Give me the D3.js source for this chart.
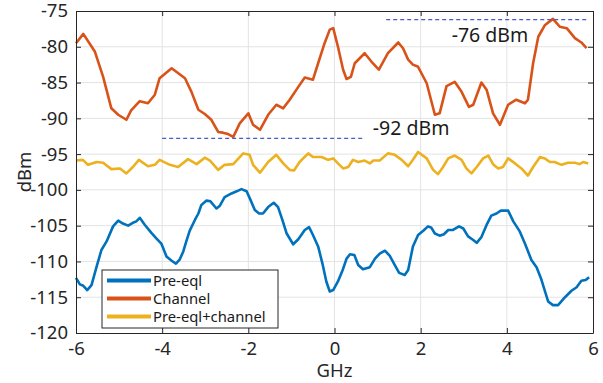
<!DOCTYPE html>
<html>
<head>
<meta charset="utf-8">
<script src="https://cdn.jsdelivr.net/npm/d3@7"></script>
<style>
  body { margin: 0; background: #fff; }
  svg { display: block; font-family: "Noto Sans", sans-serif; }
  .grid line { stroke: #e3e3e3; stroke-width: 1; }
  .axis path, .axis line { stroke: #262626; }
  .axis text { fill: #262626; font-size: 18.5px; font-family: "Noto Sans", sans-serif; }
</style>
</head>
<body>
<div id="chart"></div>
<script>
// Pre-eql
const preEqlF = [-6.0, -5.91, -5.83, -5.74, -5.64, -5.52, -5.41, -5.29, -5.14, -5.02, -4.91, -4.79, -4.68, -4.6, -4.52, -4.4, -4.25, -4.13, -4.02, -3.9, -3.78, -3.68, -3.59, -3.51, -3.44, -3.36, -3.24, -3.16, -3.09, -2.97, -2.88, -2.74, -2.66, -2.55, -2.39, -2.27, -2.16, -2.04, -1.95, -1.85, -1.75, -1.66, -1.54, -1.41, -1.31, -1.21, -1.11, -0.96, -0.84, -0.69, -0.59, -0.5, -0.38, -0.28, -0.19, -0.11, -0.03, 0.08, 0.19, 0.28, 0.36, 0.46, 0.55, 0.66, 0.82, 0.94, 1.05, 1.17, 1.28, 1.4, 1.5, 1.63, 1.71, 1.82, 1.94, 2.06, 2.17, 2.25, 2.33, 2.44, 2.54, 2.64, 2.75, 2.89, 2.99, 3.1, 3.22, 3.3, 3.41, 3.53, 3.64, 3.76, 3.86, 4.03, 4.15, 4.3, 4.42, 4.57, 4.69, 4.8, 4.96, 5.07, 5.19, 5.35, 5.5, 5.62, 5.73, 5.83, 5.91];
const preEqlDb = [-112.3, -113.2, -113.4, -114.0, -113.3, -110.7, -108.4, -107.2, -105.1, -104.3, -104.7, -105.0, -104.6, -104.4, -103.9, -104.9, -106.0, -106.8, -107.5, -109.3, -109.9, -110.3, -109.7, -108.6, -107.2, -105.7, -104.2, -103.3, -102.1, -101.5, -101.6, -102.6, -102.2, -101.0, -100.5, -100.2, -99.9, -100.2, -101.4, -102.8, -103.3, -103.3, -102.4, -101.8, -102.4, -104.2, -106.1, -107.6, -106.9, -105.6, -105.2, -106.3, -107.9, -110.3, -112.8, -114.2, -114.0, -112.8, -111.2, -109.6, -109.0, -109.1, -110.5, -111.1, -110.8, -109.6, -108.9, -108.5, -109.2, -110.5, -111.6, -111.9, -111.2, -107.9, -106.3, -105.7, -105.1, -105.3, -106.1, -106.4, -106.2, -105.6, -105.6, -105.1, -105.4, -106.5, -107.0, -107.4, -106.6, -104.9, -103.6, -103.3, -102.9, -102.9, -104.4, -105.8, -107.5, -109.8, -110.8, -112.5, -115.6, -116.1, -116.1, -115.0, -114.1, -113.6, -112.7, -112.6, -112.2];

// Channel
const channelF = [-6.0, -5.83, -5.56, -5.37, -5.18, -5.02, -4.83, -4.72, -4.52, -4.33, -4.17, -4.06, -3.78, -3.47, -3.32, -3.16, -3.01, -2.86, -2.7, -2.59, -2.47, -2.35, -2.2, -2.0, -1.89, -1.73, -1.54, -1.35, -1.19, -1.04, -0.84, -0.69, -0.5, -0.38, -0.23, -0.11, -0.03, 0.08, 0.2, 0.28, 0.38, 0.47, 0.7, 0.86, 1.03, 1.24, 1.48, 1.59, 1.71, 1.82, 1.94, 2.14, 2.33, 2.44, 2.6, 2.79, 2.95, 3.12, 3.22, 3.41, 3.53, 3.68, 3.84, 4.03, 4.22, 4.42, 4.49, 4.61, 4.73, 4.88, 5.07, 5.23, 5.39, 5.58, 5.73, 5.85];
const channelDb = [-79.5, -78.2, -80.7, -84.2, -88.6, -89.5, -90.2, -88.9, -87.6, -87.9, -86.7, -84.4, -83.0, -84.4, -86.3, -88.8, -89.4, -90.2, -91.9, -92.0, -92.2, -92.6, -90.7, -89.3, -90.9, -91.6, -89.5, -88.1, -88.6, -87.4, -85.6, -84.3, -84.6, -82.3, -79.5, -77.6, -77.4, -80.0, -83.2, -84.5, -84.2, -82.3, -80.9, -82.1, -83.2, -80.9, -79.4, -80.2, -81.8, -82.5, -82.8, -85.1, -89.5, -89.3, -85.5, -84.9, -86.3, -88.4, -88.1, -85.0, -86.0, -89.3, -90.9, -88.1, -87.4, -87.9, -87.4, -82.3, -78.6, -77.0, -76.1, -77.2, -77.4, -78.8, -79.4, -80.2];

// Pre-eql+channel
const comboF = [-6.0, -5.84, -5.72, -5.52, -5.37, -5.18, -4.98, -4.83, -4.68, -4.54, -4.33, -4.17, -4.06, -3.82, -3.63, -3.4, -3.2, -3.01, -2.89, -2.7, -2.55, -2.35, -2.12, -1.97, -1.89, -1.73, -1.54, -1.35, -1.19, -1.04, -0.94, -0.81, -0.61, -0.5, -0.3, -0.15, -0.03, 0.08, 0.2, 0.32, 0.43, 0.55, 0.7, 0.82, 0.9, 1.05, 1.24, 1.4, 1.56, 1.71, 1.82, 1.94, 2.14, 2.29, 2.4, 2.52, 2.64, 2.79, 2.95, 3.06, 3.18, 3.3, 3.45, 3.57, 3.68, 3.8, 3.91, 4.03, 4.19, 4.34, 4.49, 4.61, 4.77, 4.88, 5.0, 5.11, 5.27, 5.42, 5.58, 5.69, 5.77, 5.89];
const comboDb = [-95.9, -95.8, -96.5, -96.1, -96.2, -97.1, -97.0, -97.7, -96.8, -95.8, -96.7, -96.5, -95.8, -96.5, -96.8, -95.7, -96.4, -95.5, -95.9, -97.2, -96.5, -96.4, -94.9, -95.1, -96.5, -97.6, -96.1, -95.1, -96.3, -97.2, -97.3, -96.1, -94.9, -95.4, -95.4, -95.8, -95.6, -96.3, -97.0, -96.8, -95.8, -96.1, -95.9, -96.3, -95.9, -95.9, -94.9, -95.1, -95.8, -96.7, -95.8, -94.7, -95.6, -97.2, -97.8, -96.8, -95.6, -95.2, -95.8, -97.0, -97.7, -96.8, -95.6, -95.2, -96.4, -97.0, -96.8, -95.6, -96.3, -97.0, -98.0, -96.8, -95.4, -95.6, -96.1, -96.1, -96.5, -96.2, -96.2, -96.4, -96.1, -96.3];

const seriesNames = ['Pre-eql', 'Channel', 'Pre-eql+channel'];
const seriesColors = ['#0072BD', '#D95319', '#EDB120'];

const xTicks = [-6, -4, -2, 0, 2, 4, 6];
const yTicks = [-75, -80, -85, -90, -95, -100, -105, -110, -115, -120];

// reference levels: [level, fromGHz, toGHz, label]
const refLevels = [
  [-76.2, 1.2, 5.9, '-76 dBm'],
  [-92.8, -4.0, 0.7, '-92 dBm']
];

const W = 603, H = 383;
const margin = {top: 11, right: 10, bottom: 50, left: 76};
const iw = W - margin.left - margin.right;
const ih = H - margin.top - margin.bottom;

const svg = d3.select('#chart').append('svg').attr('width', W).attr('height', H);
const g = svg.append('g').attr('transform', 'translate(' + margin.left + ',' + margin.top + ')');

const x = d3.scaleLinear().domain([-6, 6]).range([0, iw]);
const y = d3.scaleLinear().domain([-120, -75]).range([ih, 0]);

// grid
g.append('g').attr('class', 'grid')
  .selectAll('line').data(xTicks.slice(1, -1)).enter().append('line')
  .attr('x1', d => x(d)).attr('x2', d => x(d)).attr('y1', 0).attr('y2', ih);
g.append('g').attr('class', 'grid')
  .selectAll('line').data(yTicks.slice(1, -1)).enter().append('line')
  .attr('y1', d => y(d)).attr('y2', d => y(d)).attr('x1', 0).attr('x2', iw);

// data lines
const allSeries = [[preEqlF, preEqlDb], [channelF, channelDb], [comboF, comboDb]];
const line = d3.line().x(d => x(d[0])).y(d => y(d[1])).curve(d3.curveLinear);
allSeries.forEach(function(s, i) {
  const pts = s[0].map((f, k) => [f, s[1][k]]);
  g.append('path').datum(pts)
    .attr('fill', 'none')
    .attr('stroke', seriesColors[i])
    .attr('stroke-width', 2.6)
    .attr('stroke-linejoin', 'round')
    .attr('d', line);
});

// dashed reference lines
refLevels.forEach(function(r) {
  g.append('line')
    .attr('x1', x(r[1])).attr('x2', x(r[2]))
    .attr('y1', y(r[0])).attr('y2', y(r[0]))
    .attr('stroke', '#4a5cc4').attr('stroke-width', 1.2)
    .attr('stroke-dasharray', '4,3');
});
g.append('text').attr('x', x(2.72)).attr('y', y(-79.4))
  .attr('font-size', 19.5).attr('fill', '#1a1a1a').text(refLevels[0][3]);
g.append('text').attr('x', x(0.89)).attr('y', y(-92.3))
  .attr('font-size', 19.5).attr('fill', '#1a1a1a').text(refLevels[1][3]);

// axes
const tickFmt = d => d3.format('d')(d).replace('\u2212', '-');
g.append('g').attr('class', 'axis')
  .attr('transform', 'translate(0,' + ih + ')')
  .call(d3.axisBottom(x).tickValues(xTicks).tickSizeInner(-5).tickSizeOuter(0).tickPadding(9).tickFormat(tickFmt));
g.append('g').attr('class', 'axis')
  .call(d3.axisLeft(y).tickValues(yTicks).tickSizeInner(-5).tickSizeOuter(0).tickPadding(8).tickFormat(tickFmt));
g.append('g').attr('class', 'axis')
  .call(d3.axisTop(x).tickValues(xTicks).tickSizeInner(-5).tickSizeOuter(0).tickFormat(''));
g.append('g').attr('class', 'axis')
  .attr('transform', 'translate(' + iw + ',0)')
  .call(d3.axisRight(y).tickValues(yTicks).tickSizeInner(-5).tickSizeOuter(0).tickFormat(''));
g.selectAll('.axis path').attr('stroke-width', 1);

// axis titles
svg.append('text').attr('x', margin.left + x(0)).attr('y', 377)
  .attr('text-anchor', 'middle').attr('font-size', 18.5).attr('fill', '#262626').text('GHz');
svg.append('text')
  .attr('transform', 'translate(31,' + (margin.top + ih / 2) + ') rotate(-90)')
  .attr('text-anchor', 'middle').attr('font-size', 18.5).attr('fill', '#262626').text('dBm');

// legend
const legend = svg.append('g').attr('transform', 'translate(102,270)');
legend.append('rect').attr('width', 176).attr('height', 58)
  .attr('fill', '#fff').attr('stroke', '#262626').attr('stroke-width', 1);
seriesNames.forEach(function(name, i) {
  const ly = 10.5 + i * 18;
  legend.append('line').attr('x1', 5).attr('x2', 49).attr('y1', ly).attr('y2', ly)
    .attr('stroke', seriesColors[i]).attr('stroke-width', 4);
  legend.append('text').attr('x', 51).attr('y', ly).attr('dy', '0.35em')
    .attr('font-size', 14.8).attr('fill', '#1a1a1a').text(name);
});
</script>
</body>
</html>
